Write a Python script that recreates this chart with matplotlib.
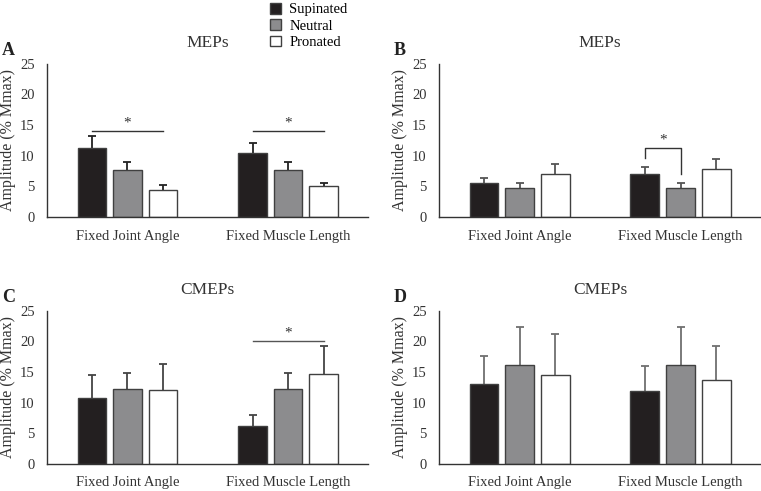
import matplotlib
matplotlib.use("Agg")
import matplotlib.pyplot as plt
import numpy as np

plt.rcParams["font.family"] = ["Liberation Serif", "DejaVu Serif"]

groups = ["Fixed Joint Angle", "Fixed Muscle Length"]
postures = ["Supinated", "Neutral", "Pronated"]
fills = ["#231f20", "#8c8c8e", "#ffffff"]

# means and upper error bars (SD), per panel
a_mean = {"Supinated": [11.3, 10.5], "Neutral": [7.7, 7.7], "Pronated": [4.4, 5.0]}
a_err = {"Supinated": [1.9, 1.5], "Neutral": [1.3, 1.3], "Pronated": [0.8, 0.6]}
b_mean = {"Supinated": [5.5, 7.1], "Neutral": [4.8, 4.8], "Pronated": [7.1, 7.9]}
b_err = {"Supinated": [0.9, 1.0], "Neutral": [0.8, 0.8], "Pronated": [1.6, 1.5]}
c_mean = {"Supinated": [10.7, 6.2], "Neutral": [12.2, 12.2], "Pronated": [12.0, 14.7]}
c_err = {"Supinated": [3.9, 1.8], "Neutral": [2.7, 2.7], "Pronated": [4.4, 4.5]}
d_mean = {"Supinated": [13.1, 11.9], "Neutral": [16.2, 16.2], "Pronated": [14.6, 13.7]}
d_err = {"Supinated": [4.6, 4.1], "Neutral": [6.1, 6.1], "Pronated": [6.6, 5.5]}

panels = [
    ("A", "MEPs", a_mean, a_err, "#222222"),
    ("B", "MEPs", b_mean, b_err, "#555555"),
    ("C", "CMEPs", c_mean, c_err, "#444444"),
    ("D", "CMEPs", d_mean, d_err, "#707070"),
]

axes_pos = [
    [0.062, 0.558, 0.422, 0.312],
    [0.577, 0.558, 0.423, 0.312],
    [0.062, 0.055, 0.422, 0.312],
    [0.577, 0.055, 0.423, 0.312],
]

fig = plt.figure(figsize=(7.61, 4.91), dpi=100)

centers = np.array([0.5, 1.5])
width = 0.18
step = 0.221
spine_col = "#333333"

axs = []
for (letter, title, means, errs, ecol), pos in zip(panels, axes_pos):
    ax = fig.add_axes(pos)
    axs.append(ax)
    handles = []
    for i, p in enumerate(postures):
        x = centers + (i - 1) * step
        h = ax.bar(x, means[p], width, color=fills[i], edgecolor="#404040",
                   linewidth=1.0, label=p, zorder=2)
        handles.append(h)
        eb = ax.errorbar(x, means[p], yerr=[np.zeros(2), errs[p]], fmt="none",
                         ecolor=ecol, elinewidth=1.3, capsize=3, capthick=1.3,
                         zorder=1)
        # only the upper cap is shown
        eb[1][0].set_visible(False)
    ax.set_xlim(0, 2)
    ax.set_ylim(0, 25)
    ax.set_yticks([0, 5, 10, 15, 20, 25])
    ax.set_xticks(centers)
    ax.set_xticklabels(groups, fontsize=10.5)
    ax.tick_params(axis="both", length=0, colors="#333333")
    ax.tick_params(axis="y", labelsize=10.5, pad=9)
    ax.tick_params(axis="x", pad=9)
    ax.set_ylabel("Amplitude (% Mmax)", fontsize=11.5, color="#333333", labelpad=3)
    for s in ["top", "right"]:
        ax.spines[s].set_visible(False)
    for s in ["left", "bottom"]:
        ax.spines[s].set_color(spine_col)
        ax.spines[s].set_linewidth(1.0)
    ax.set_title(title, fontsize=12.5, color="#333333", pad=12)
    ax.text(-0.14, 1.09, letter, transform=ax.transAxes, fontsize=13,
            fontweight="bold", color="#222222", va="center")

# significance markers
ax = axs[0]
for c in centers:
    ax.plot([c - step, c + step], [14.0, 14.0], color="#333333", lw=1.0)
    ax.text(c, 14.3, "*", ha="center", va="bottom", fontsize=11, color="#333333")

ax = axs[1]
c = centers[1]
ax.plot([c - step, c - step, c, c], [9.6, 11.2, 11.2, 7.0], color="#333333", lw=1.0)
ax.text(c - step / 2, 11.5, "*", ha="center", va="bottom", fontsize=11, color="#333333")

ax = axs[2]
c = centers[1]
ax.plot([c - step, c + step], [20.0, 20.0], color="#555555", lw=1.0)
ax.text(c, 20.3, "*", ha="center", va="bottom", fontsize=11, color="#333333")

fig.legend(handles, postures, loc="upper left", bbox_to_anchor=(0.343, 1.012),
           frameon=False, fontsize=10.5, handlelength=0.75, handleheight=0.75,
           handletextpad=0.6, labelspacing=0.2, borderaxespad=0.2)

fig.savefig("out.png", dpi=100)
